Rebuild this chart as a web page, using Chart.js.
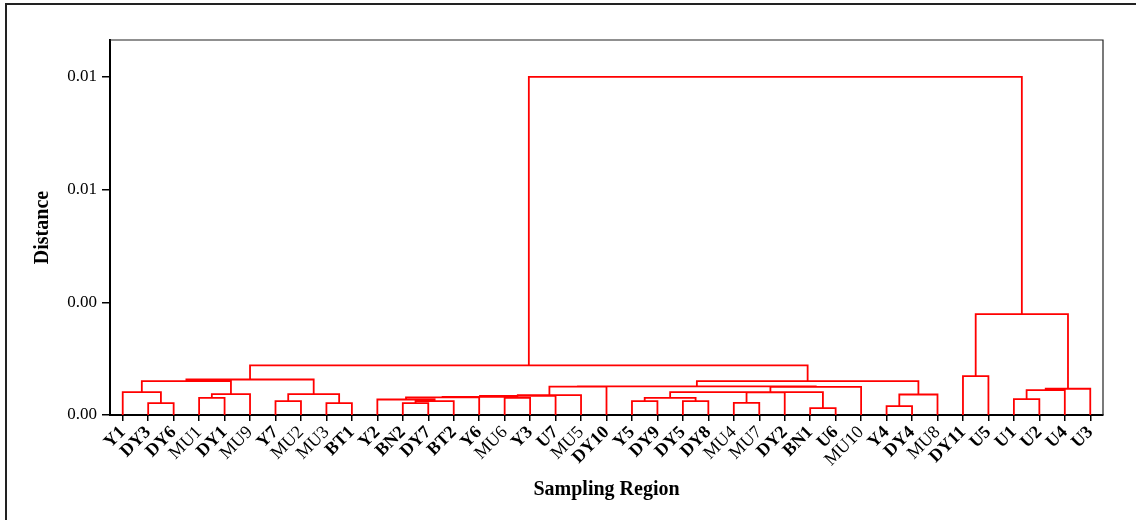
<!DOCTYPE html>
<html>
<head>
<meta charset="utf-8">
<title>Dendrogram - Sampling Region</title>
<script src="https://cdn.jsdelivr.net/npm/chart.js@4.4.0/dist/chart.umd.min.js"></script>
<style>
    html, body { margin: 0; padding: 0; background: #fff; }
    #wrap { width: 1136px; height: 520px; }
</style>
</head>
<body>
<div id="wrap"><canvas id="dendro" width="1136" height="520"></canvas></div>
<script>
// leaf order along the x axis
var leafLabels = ['Y1', 'DY3', 'DY6', 'MU1', 'DY1', 'MU9', 'Y7', 'MU2', 'MU3', 'BT1',
    'Y2', 'BN2', 'DY7', 'BT2', 'Y6', 'MU6', 'Y3', 'U7', 'MU5', 'DY10',
    'Y5', 'DY9', 'DY5', 'DY8', 'MU4', 'MU7', 'DY2', 'BN1', 'U6', 'MU10',
    'Y4', 'DY4', 'MU8', 'DY11', 'U5', 'U1', 'U2', 'U4', 'U3'];

// merges: [left node, right node, distance]; ids 0..38 are leaves, 39+ are earlier merges
var links = [
    [1, 2, 0.000262], [0, 39, 0.000506], [3, 4, 0.000382], [41, 5, 0.000462],
    [40, 42, 0.000750], [6, 7, 0.000306], [8, 9, 0.000262], [44, 45, 0.000462],
    [43, 46, 0.000788], [11, 12, 0.000262], [48, 13, 0.000306], [10, 49, 0.000344],
    [50, 14, 0.000389], [15, 16, 0.000382], [51, 52, 0.000404], [53, 17, 0.000426],
    [54, 18, 0.000440], [55, 19, 0.000628], [20, 21, 0.000306], [22, 23, 0.000306],
    [57, 58, 0.000382], [24, 25, 0.000271], [27, 28, 0.000151], [60, 26, 0.000505],
    [59, 62, 0.000506], [63, 61, 0.000507], [64, 29, 0.000622], [56, 65, 0.000637],
    [30, 31, 0.000195], [67, 32, 0.000455], [66, 68, 0.000750], [47, 69, 0.001099],
    [33, 34, 0.000861], [35, 36, 0.000351], [72, 37, 0.000551], [73, 38, 0.000582],
    [71, 74, 0.002238], [70, 75, 0.0075]
];

var yTickStep = 0.0025;
var yMax = 0.00832;

function buildSegments() {
    var n = leafLabels.length;
    var pos = [], height = [];
    for (var i = 0; i < n; i++) { pos.push(i); height.push(0); }
    var pts = [];
    links.forEach(function (l) {
        var a = l[0], b = l[1], h = l[2];
        pts.push({ x: pos[a], y: height[a] });
        pts.push({ x: pos[a], y: h });
        pts.push({ x: pos[b], y: h });
        pts.push({ x: pos[b], y: height[b] });
        pts.push({ x: pos[b], y: null });
        pos.push((pos[a] + pos[b]) / 2);
        height.push(h);
    });
    return pts;
}

var framePlugin = {
    id: 'frame',
    afterDraw: function (chart) {
        var c = chart.ctx, a = chart.chartArea;
        c.save();
        c.strokeStyle = '#222';
        c.lineWidth = 1.2;
        c.beginPath();
        c.moveTo(a.left, a.top);
        c.lineTo(a.right, a.top);
        c.lineTo(a.right, a.bottom);
        c.stroke();
        // outer figure border
        c.lineWidth = 2;
        c.strokeRect(6, 4, 1140, 530);
        c.restore();
    }
};

var serif = "'Liberation Serif', 'Times New Roman', serif";

new Chart(document.getElementById('dendro').getContext('2d'), {
    type: 'line',
    data: {
        datasets: [{
            data: buildSegments(),
            borderColor: '#ff0000',
            borderWidth: 1.8,
            pointRadius: 0,
            tension: 0,
            spanGaps: false,
            fill: false
        }]
    },
    options: {
        responsive: false,
        animation: false,
        layout: { padding: { top: 40, right: 33, left: 0, bottom: 0 } },
        plugins: { legend: { display: false }, tooltip: { enabled: false } },
        scales: {
            x: {
                type: 'linear',
                min: -0.5,
                max: 38.5,
                afterBuildTicks: function (s) {
                    s.ticks = leafLabels.map(function (_, i) { return { value: i }; });
                },
                afterFit: function (s) { s.height = 105; },
                ticks: {
                    autoSkip: false,
                    minRotation: 45,
                    maxRotation: 45,
                    padding: 1,
                    color: '#000',
                    callback: function (v) { return leafLabels[v]; },
                    font: function (ctx) {
                        var lab = ctx.tick ? leafLabels[ctx.tick.value] : '';
                        return { family: serif, size: 18, weight: (lab && lab.indexOf('MU') === 0) ? 'normal' : 'bold' };
                    }
                },
                grid: { drawOnChartArea: false, tickLength: 6, color: '#000', lineWidth: 1.5 },
                border: { color: '#000', width: 2 },
                title: {
                    display: true,
                    text: 'Sampling Region',
                    color: '#000',
                    font: { family: serif, size: 20, weight: 'bold' },
                    padding: { top: 0, bottom: 18 }
                }
            },
            y: {
                min: 0,
                max: yMax,
                afterFit: function (s) { s.width = 110; },
                ticks: {
                    stepSize: yTickStep,
                    includeBounds: false,
                    padding: 5,
                    color: '#000',
                    font: { family: serif, size: 17 },
                    callback: function (v) { return v.toFixed(2); }
                },
                grid: { drawOnChartArea: false, tickLength: 8, color: '#000', lineWidth: 1.5 },
                border: { color: '#000', width: 2 },
                title: {
                    display: true,
                    text: 'Distance',
                    color: '#000',
                    font: { family: serif, size: 20, weight: 'bold' },
                    padding: { top: 31, bottom: 0 }
                }
            }
        }
    },
    plugins: [framePlugin]
});
</script>
</body>
</html>
